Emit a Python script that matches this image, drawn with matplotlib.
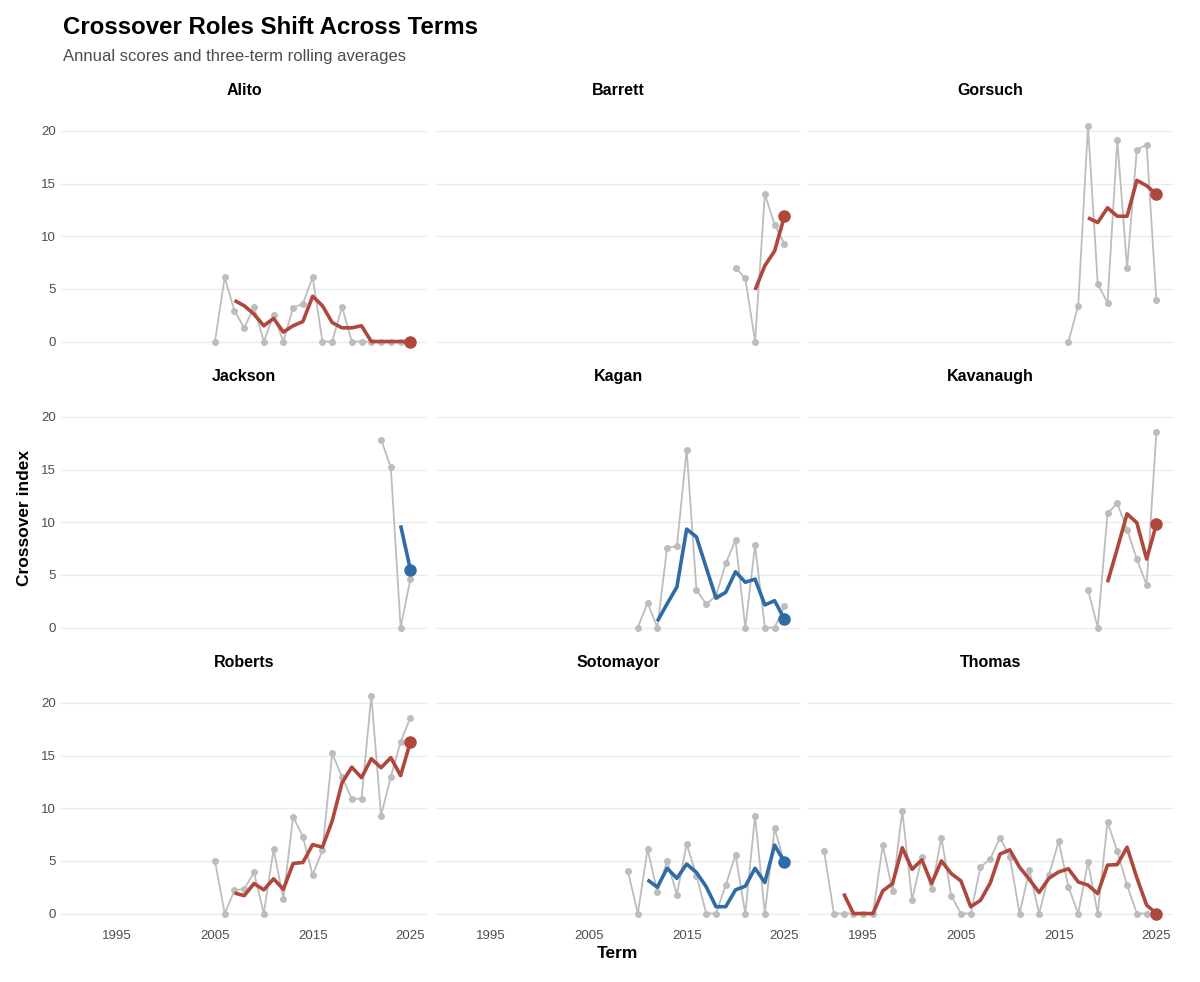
import numpy as np
import matplotlib
matplotlib.use("Agg")
import matplotlib.pyplot as plt

# ======================
# DATA
# ======================
justices = ["Alito", "Barrett", "Gorsuch",
            "Jackson", "Kagan", "Kavanaugh",
            "Roberts", "Sotomayor", "Thomas"]
bloc = ["cons", "cons", "cons",
        "lib", "lib", "cons",
        "cons", "lib", "cons"]

# first term of annual series / first term of rolling series
annual_start = [2005, 2020, 2016, 2022, 2010, 2018, 2005, 2009, 1991]
rolling_start = [2007, 2022, 2018, 2024, 2012, 2020, 2007, 2011, 1993]

alito_annual = [0, 6.1, 2.9, 1.3, 3.3, 0, 2.5, 0, 3.2, 3.6, 6.1, 0, 0, 3.3, 0, 0, 0, 0, 0, 0, 0]
alito_roll = [3.9, 3.4, 2.6, 1.5, 2.2, 0.9, 1.5, 1.9, 4.3, 3.4, 1.8, 1.3, 1.3, 1.5, 0, 0, 0, 0, 0]

barrett_annual = [7.0, 6.0, 0, 14.0, 11.1, 9.3]
barrett_roll = [4.9, 7.2, 8.6, 11.9]

gorsuch_annual = [0, 3.4, 20.5, 5.5, 3.65, 19.1, 7.0, 18.2, 18.7, 3.9]
gorsuch_roll = [11.75, 11.3, 12.7, 11.9, 11.9, 15.3, 14.8, 14.0]

jackson_annual = [17.85, 15.2, 0, 4.6]
jackson_roll = [9.7, 5.5]

kagan_annual = [0, 2.35, 0, 7.6, 7.7, 16.9, 3.6, 2.2, 3.0, 6.1, 8.3, 0, 7.8, 0, 0, 2.0]
kagan_roll = [0.6, 2.25, 3.85, 9.35, 8.6, 5.7, 2.8, 3.35, 5.3, 4.3, 4.6, 2.15, 2.55, 0.8]

kavanaugh_annual = [3.6, 0, 10.85, 11.8, 9.3, 6.5, 4.05, 18.55]
kavanaugh_roll = [4.3, 7.5, 10.8, 9.95, 6.5, 9.8]

roberts_annual = [5.0, 0, 2.2, 2.35, 3.9, 0, 6.1, 1.4, 9.2, 7.3, 3.65, 6.0, 15.2,
                  12.95, 10.9, 10.9, 20.7, 9.3, 13.0, 16.3, 18.6]
roberts_roll = [1.95, 1.7, 2.85, 2.25, 3.3, 2.3, 4.75, 4.85, 6.55, 6.3, 8.8, 12.4,
                13.9, 12.9, 14.7, 13.85, 14.8, 13.1, 16.3]

sotomayor_annual = [4.0, 0, 6.1, 2.05, 5.0, 1.8, 6.6, 3.6, 0, 0, 2.7, 5.6, 0, 9.3, 0, 8.1, 4.8]
sotomayor_roll = [3.2, 2.5, 4.3, 3.35, 4.7, 3.9, 2.55, 0.65, 0.65, 2.25, 2.6, 4.3, 2.95, 6.5, 4.9]

thomas_annual = [5.9, 0, 0, 0, 0, 0, 6.5, 2.15, 9.75, 1.3, 5.35, 2.3, 7.2, 1.7, 0, 0,
                 4.4, 5.2, 7.2, 5.4, 0, 4.1, 0, 3.65, 6.85, 2.55, 0, 4.9, 0, 8.7,
                 5.9, 2.7, 0, 0, 0]
thomas_roll = [1.9, 0, 0, 0, 2.15, 2.85, 6.25, 4.2, 5.1, 2.85, 5.0, 3.8, 3.1, 0.65,
               1.25, 2.9, 5.65, 6.05, 4.4, 3.25, 2.0, 3.35, 3.95, 4.25, 3.0, 2.7,
               1.9, 4.6, 4.65, 6.3, 3.4, 0.8, 0]

annual_vals = [alito_annual, barrett_annual, gorsuch_annual,
               jackson_annual, kagan_annual, kavanaugh_annual,
               roberts_annual, sotomayor_annual, thomas_annual]
rolling_vals = [alito_roll, barrett_roll, gorsuch_roll,
                jackson_roll, kagan_roll, kavanaugh_roll,
                roberts_roll, sotomayor_roll, thomas_roll]

x_ticks = [1995, 2005, 2015, 2025]
y_ticks = [0, 5, 10, 15, 20]

# ======================
# STYLE
# ======================
plt.rcParams["font.family"] = ["Liberation Sans", "DejaVu Sans"]
bloc_color = {"cons": "#B0473D", "lib": "#2F6CA6"}
grey = "#BDBDBD"
grid_col = "#EBEBEB"
tick_col = "#4D4D4D"

W, H = 1200, 982
fig = plt.figure(figsize=(W / 100, H / 100), dpi=100)

col_left = [61.5, 435.5, 807.5]
row_top = [113, 399, 685]
ax_w, ax_h = 365.5, 239.5

# ======================
# PANELS
# ======================
for i, name in enumerate(justices):
    r, c = divmod(i, 3)
    ax = fig.add_axes([col_left[c] / W, 1 - (row_top[r] + ax_h) / H, ax_w / W, ax_h / H])

    yrs_a = np.arange(annual_start[i], annual_start[i] + len(annual_vals[i]))
    yrs_r = np.arange(rolling_start[i], rolling_start[i] + len(rolling_vals[i]))
    col = bloc_color[bloc[i]]

    ax.plot(yrs_a, annual_vals[i], color=grey, lw=1.3, marker="o", ms=4,
            mec=grey, mfc=grey, zorder=2)
    ax.plot(yrs_r, rolling_vals[i], color=col, lw=2.6, zorder=3,
            solid_joinstyle="round", solid_capstyle="butt")
    ax.plot(yrs_r[-1], rolling_vals[i][-1], "o", color=col, ms=8, zorder=4)

    ax.set_xlim(1989.3, 2026.7)
    ax.set_ylim(-1.04, 21.7)
    ax.set_xticks(x_ticks)
    ax.set_yticks(y_ticks)
    ax.grid(axis="y", color=grid_col, lw=1.0)
    ax.set_axisbelow(True)
    for s in ax.spines.values():
        s.set_visible(False)
    ax.tick_params(length=0, labelsize=9.5, labelcolor=tick_col, pad=4)
    if c != 0:
        ax.tick_params(labelleft=False)
    if r != 2:
        ax.tick_params(labelbottom=False)

    ax.set_title(name, fontsize=11.5, fontweight="bold", pad=13)

# ======================
# TITLES / LABELS
# ======================
fig.text(63 / W, 1 - 28 / H, "Crossover Roles Shift Across Terms",
         fontsize=17.3, fontweight="bold", va="center", ha="left")
fig.text(63 / W, 1 - 57 / H, "Annual scores and three-term rolling averages",
         fontsize=12, color=tick_col, va="center", ha="left")
fig.text(25 / W, 1 - 518 / H, "Crossover index", rotation=90,
         fontsize=12.5, fontweight="bold", va="center", ha="center")
fig.text(617 / W, 1 - 954 / H, "Term",
         fontsize=12.5, fontweight="bold", va="center", ha="center")

fig.savefig("out.png", dpi=100, facecolor="white")
